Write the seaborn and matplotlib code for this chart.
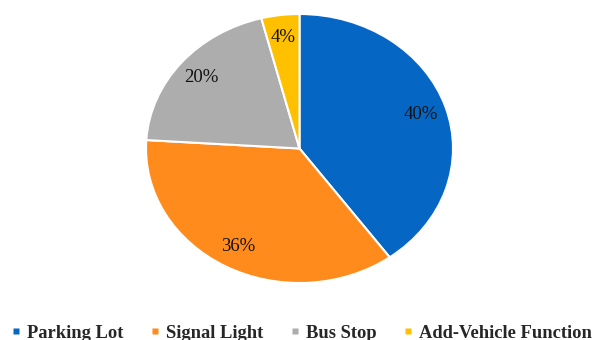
import matplotlib
matplotlib.use("Agg")
import matplotlib.pyplot as plt
from matplotlib.lines import Line2D
import seaborn as sns

categories = ["Parking Lot", "Signal Light", "Bus Stop", "Add-Vehicle Function"]
values = [40, 36, 20, 4]
colors = ["#0566C4", "#FF8B1C", "#ADADAD", "#FFC000"]

sns.set_theme(style="white")
plt.rcParams["font.family"] = ["Liberation Serif", "DejaVu Serif"]

fig = plt.figure(figsize=(5.94, 3.40), dpi=100)
ax = fig.add_axes([146 / 594, 57 / 340, 307 / 594, 269 / 340])

wedges, texts, autotexts = ax.pie(
    values,
    colors=sns.color_palette(colors),
    startangle=90,
    counterclock=False,
    autopct=lambda p: f"{p:.0f}%",
    pctdistance=0.83,
    wedgeprops=dict(edgecolor="white", linewidth=1.5),
    textprops=dict(fontsize=13.5, color="#111111", family="Liberation Serif"),
)
ax.set_aspect("auto")
ax.set_xlim(-1, 1)
ax.set_ylim(-1, 1)
ax.axis("off")

handles = [Line2D([], [], linestyle="none", marker="s", markersize=4.3,
                  markerfacecolor=c, markeredgecolor="none") for c in colors]
fig.legend(
    handles, categories,
    loc="center", bbox_to_anchor=(302 / 594, 1 - 333 / 340),
    ncol=4, frameon=False,
    prop=dict(family="Liberation Serif", weight="bold", size=13.3),
    handlelength=0.4, handletextpad=0.4,
    columnspacing=1.5, borderpad=0, borderaxespad=0,
)

fig.savefig("out.png", dpi=100)
